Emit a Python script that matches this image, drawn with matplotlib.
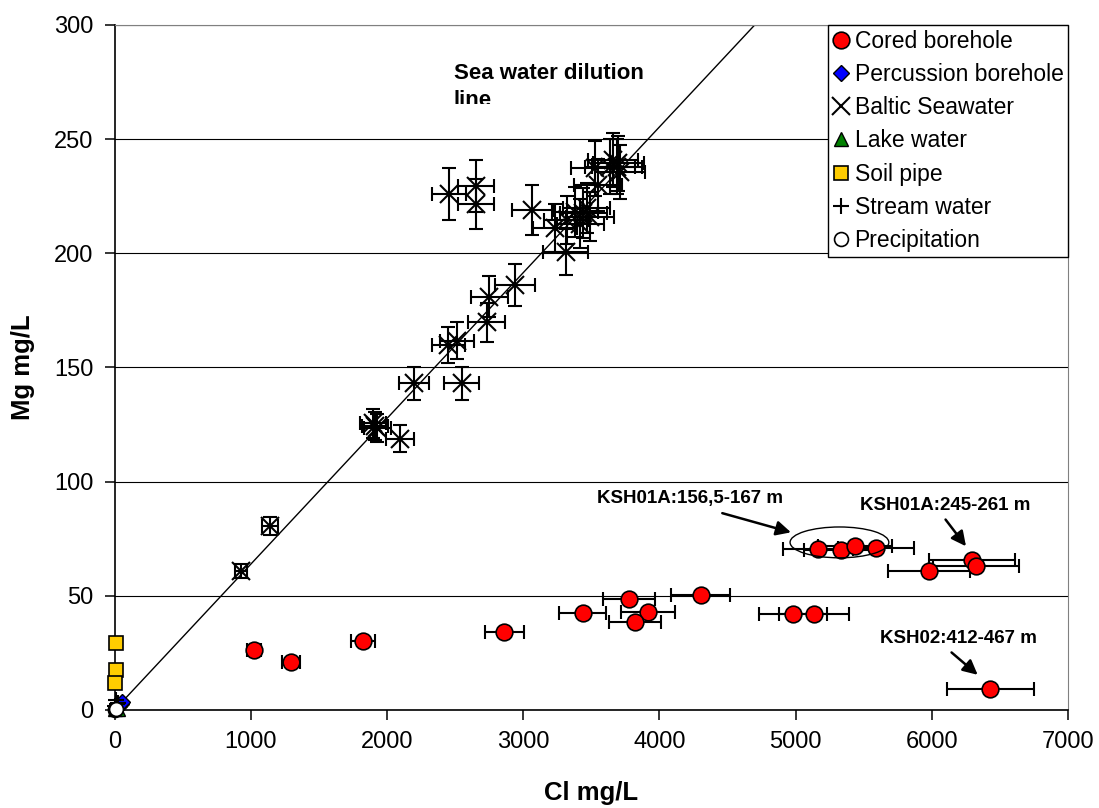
import numpy as np
import matplotlib
matplotlib.use('Agg')
import matplotlib.pyplot as plt
from matplotlib.patches import Ellipse
from matplotlib.transforms import Bbox, TransformedBbox

plt.rcParams['font.family'] = ['Liberation Sans', 'DejaVu Sans']

# cored borehole samples: Cl, Mg, Cl uncertainty
cored_cl = [1024, 1296, 1824, 2860, 3437, 3777, 3917, 3822, 4303, 4983,
            5136, 5165, 5330, 5435, 5588, 5981, 6293, 6322, 6430]
cored_mg = [26.3, 21.2, 30.2, 34.0, 42.3, 48.6, 42.9, 38.4, 50.2, 42.2,
            42.2, 70.5, 69.9, 72.0, 70.8, 60.8, 65.8, 63.1, 9.0]
cored_cl_err = [51, 65, 91, 143, 172, 189, 196, 191, 215, 249,
                257, 258, 267, 272, 279, 299, 315, 316, 322]

# percussion boreholes
perc_cl = [32, 45, 58]
perc_mg = [1.8, 2.8, 3.6]

# Baltic seawater samples
baltic_cl = [929, 1143, 1895, 1912, 1930, 2095, 2201, 2549, 2451, 2512,
             2733, 2752, 2940, 2456, 2652, 2652, 3068, 3234, 3313, 3320,
             3381, 3420, 3442, 3467, 3491, 3528, 3550, 3638, 3662, 3687,
             3699, 3711]
baltic_mg = [61.0, 80.6, 125.6, 124.5, 123.6, 118.8, 143.1, 143.1, 159.9, 161.6,
             169.8, 181.0, 186.1, 225.9, 229.5, 221.6, 219.1, 210.9, 200.6, 214.6,
             218.2, 213.0, 217.8, 219.7, 216.0, 237.2, 230.0, 238.0, 240.9, 238.0,
             239.4, 235.8]
baltic_cl_err = [46, 57, 95, 96, 97, 105, 110, 127, 123, 126,
                 137, 138, 147, 123, 133, 133, 153, 162, 166, 166,
                 169, 171, 172, 173, 175, 176, 178, 182, 183, 184,
                 185, 186]
baltic_mg_err = [3.1, 4.0, 6.3, 6.2, 6.2, 5.9, 7.2, 7.2, 8.0, 8.1,
                 8.5, 9.0, 9.3, 11.3, 11.5, 11.1, 11.0, 10.5, 10.0, 10.7,
                 10.9, 10.7, 10.9, 11.0, 10.8, 11.9, 11.5, 11.9, 12.0, 11.9,
                 12.0, 11.8]

# lake water
lake_cl = [4, 24]
lake_mg = [0.4, 0.5]

# soil pipe
soil_cl = [8, 8, 7]
soil_mg = [29.2, 17.5, 11.7]

# stream water
stream_cl = [6, 12, 20, 28]
stream_mg = [1.6, 4.2, 2.6, 3.0]

# precipitation
precip_cl = [1, 3, 9]
precip_mg = [0.1, 0.3, 0.5]

# sea water dilution line
dil_cl = [0, 4700]
dil_mg = [0, 300]

annotations = [
    ('KSH01A:156,5-167 m', (4227, 92.7), (4462, 86.2), (4966, 77.8)),
    ('KSH01A:245-261 m', (6097, 89.7), (6101, 83.4), (6251, 71.7)),
    ('KSH02:412-467 m', (6192, 31.1), (6145, 25.2), (6337, 15.4)),
]

fig = plt.figure(figsize=(10.99, 8.08), dpi=100)
ax = fig.add_axes([0.1042, 0.1213, 0.8676, 0.8478])

ax.set_xlim(0, 7000)
ax.set_ylim(0, 300)
ax.set_xticks(np.arange(0, 7001, 1000))
ax.set_yticks(np.arange(0, 301, 50))
ax.yaxis.grid(True, color='black', lw=0.8)
ax.set_axisbelow(True)

for s in ['top', 'right']:
    ax.spines[s].set_color('#808080')
for s in ['left', 'bottom']:
    ax.spines[s].set_linewidth(1.2)
ax.tick_params(direction='out', length=7, width=1.1, labelsize=17, pad=8)

ax.plot(dil_cl, dil_mg, color='black', lw=1.0, zorder=2)

# cored boreholes
ax.errorbar(cored_cl, cored_mg, xerr=cored_cl_err, fmt='none', ecolor='black',
            elinewidth=1.5, capsize=5, capthick=1.5, zorder=3)
ax.plot(cored_cl, cored_mg, 'o', color='#FF0000', mec='black', mew=1.2, ms=12,
        zorder=4, label='Cored borehole')

ax.plot(perc_cl, perc_mg, 'D', color='#0000FF', mec='black', mew=1.0, ms=8,
        zorder=4, clip_on=False, label='Percussion borehole')

# Baltic seawater
ax.errorbar(baltic_cl, baltic_mg, xerr=baltic_cl_err, yerr=baltic_mg_err,
            fmt='none', ecolor='black', elinewidth=1.5, capsize=5, capthick=1.5,
            zorder=3)
ax.plot(baltic_cl, baltic_mg, 'x', color='black', ms=13, mew=1.5, zorder=4,
        label='Baltic Seawater')

ax.plot(lake_cl, lake_mg, '^', color='#008000', mec='black', mew=1.0, ms=10,
        zorder=4, clip_on=False, label='Lake water')
ax.plot(soil_cl, soil_mg, 's', color='#FFCC00', mec='black', mew=1.2, ms=10,
        zorder=4, clip_on=False, label='Soil pipe')
ax.plot(stream_cl, stream_mg, '+', color='black', ms=11, mew=1.5, zorder=5,
        clip_on=False, label='Stream water')
ax.plot(precip_cl, precip_mg, 'o', mfc='white', mec='black', mew=1.2, ms=10,
        zorder=5, clip_on=False, label='Precipitation')

ax.add_patch(Ellipse((5322, 73.4), 725, 13.5, fill=False, edgecolor='black',
                     lw=1.0, zorder=5))

for text, pos, tail, head in annotations:
    ax.text(pos[0], pos[1], text, fontsize=13.5, fontweight='bold',
            ha='center', va='center', zorder=6)
    ax.annotate('', xy=head, xytext=tail,
                arrowprops=dict(arrowstyle='-|>', color='black', lw=1.8,
                                mutation_scale=22, shrinkA=0, shrinkB=0),
                zorder=6)

# label box is cut off just under the second line
sea = ax.text(2489, 283.3, 'Sea water dilution\nline', fontsize=16,
              fontweight='bold', ha='left', va='top', linespacing=1.36,
              zorder=6, clip_on=True)
sea.set_clip_box(TransformedBbox(Bbox([[2300, 265.6], [4200, 300]]),
                                 ax.transData))

ax.set_xlabel('Cl mg/L', fontsize=18.5, fontweight='bold', labelpad=20)
ax.set_ylabel('Mg mg/L', fontsize=18.5, fontweight='bold', labelpad=14)

leg = ax.legend(loc='upper right', fontsize=16.5, frameon=True, fancybox=False,
                edgecolor='black', framealpha=1, borderaxespad=0,
                handlelength=0.7, handletextpad=0.25, labelspacing=0.45,
                borderpad=0.2)
leg.get_frame().set_linewidth(1.0)

fig.savefig('out.png', dpi=100, facecolor='white')
